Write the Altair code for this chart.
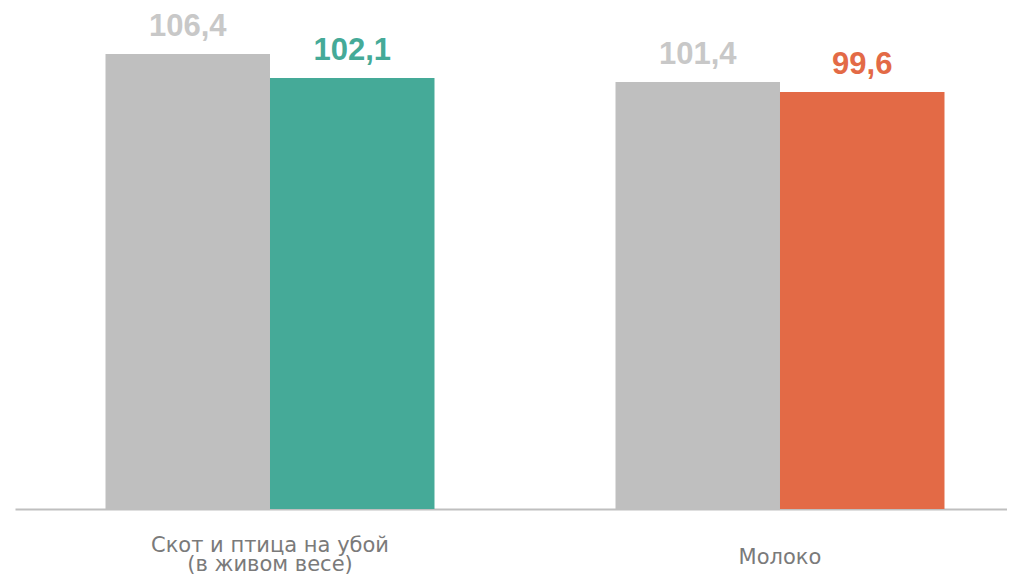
import altair as alt
import pandas as pd

# ---- data ----
categories = ["Скот и птица на убой\n(в живом весе)", "Молоко"]
series = ["База сравнения", "Текущий период"]
base_values = [106.4, 101.4]
current_values = [102.1, 99.6]
base_labels = ["106,4", "101,4"]
current_labels = ["102,1", "99,6"]
base_bar_colors = ["#BFBFBF", "#BFBFBF"]
current_bar_colors = ["#45AA98", "#E36A46"]
base_text_colors = ["#C8C8C8", "#C8C8C8"]
current_text_colors = ["#45AA98", "#E36A46"]
Y_MIN, Y_MAX = 24.98, 114.64

rows = []
for i, c in enumerate(categories):
    rows.append(dict(category=c, series=series[0], value=base_values[i],
                     label=base_labels[i], bar_color=base_bar_colors[i],
                     text_color=base_text_colors[i]))
    rows.append(dict(category=c, series=series[1], value=current_values[i],
                     label=current_labels[i], bar_color=current_bar_colors[i],
                     text_color=current_text_colors[i]))
df = pd.DataFrame(rows)

x = alt.X(
    "category:N", sort=categories, title=None,
    scale=alt.Scale(paddingInner=0.1098, paddingOuter=0.02745, align=1),
    axis=alt.Axis(
        labelExpr="split(datum.label, '\\n')", labelAngle=0,
        labelFontSize=21, labelFont="DejaVu Sans", labelColor="#7a7a7a",
        labelLineHeight=19, labelBaseline="alphabetic",
        labelPadding={"condition": {"test": "indexof(datum.value, '\\n') >= 0",
                                    "value": 42},
                      "value": 54},
        ticks=False, tickSize=0, domainColor="#BFBFBF", domainWidth=2,
        grid=False, labelLimit=0,
    ),
)
xo = alt.XOffset("series:N", sort=series,
                 scale=alt.Scale(paddingInner=0, paddingOuter=0.38))
y = alt.Y("value:Q", scale=alt.Scale(domain=[Y_MIN, Y_MAX], zero=False, nice=False),
          axis=None)

bars = alt.Chart(df).mark_bar().encode(
    x=x, xOffset=xo, y=y, y2=alt.datum(Y_MIN),
    color=alt.Color("bar_color:N", scale=None),
)
text = alt.Chart(df).mark_text(
    baseline="alphabetic", dy=-18, fontSize=31, fontWeight="bold",
    font="Liberation Sans",
).encode(
    x=x, xOffset=xo, y=y, text="label:N",
    color=alt.Color("text_color:N", scale=None),
)

chart = (bars + text).properties(
    width=992, height=501,
    padding={"left": 7, "top": 0, "right": 0, "bottom": 65},
    autosize=alt.AutoSizeParams(type="none"),
).configure_view(stroke=None)

chart.save("out.html", embed_options={"renderer": "svg", "actions": False})
